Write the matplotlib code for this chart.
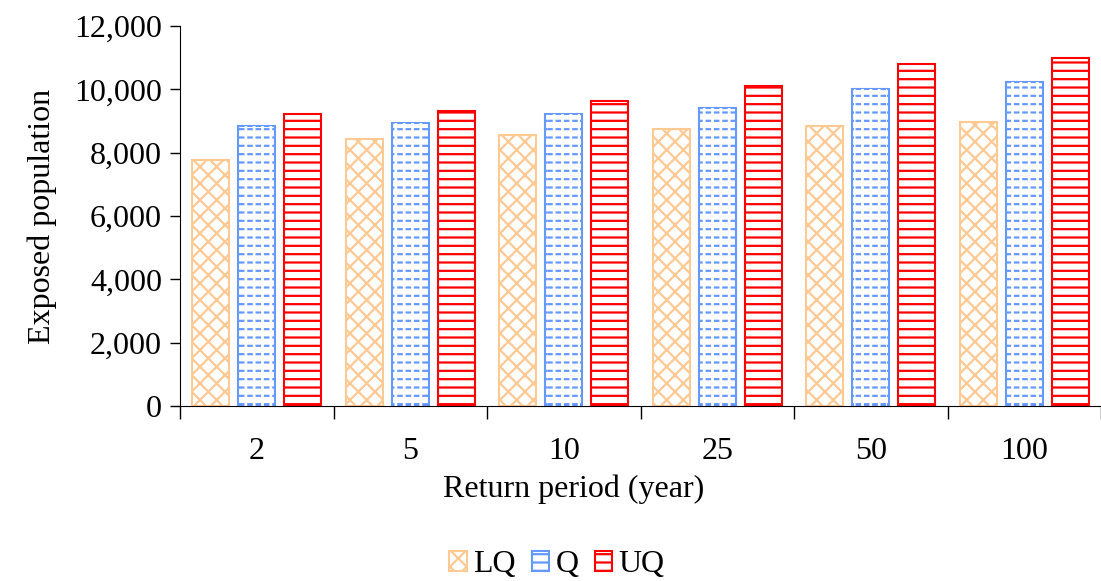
import numpy as np
import matplotlib.pyplot as plt
from matplotlib.ticker import FuncFormatter

periods = ["2", "5", "10", "25", "50", "100"]
lq = [7780, 8430, 8560, 8750, 8860, 8960]
q = [8840, 8940, 9220, 9410, 10020, 10220]
uq = [9220, 9320, 9630, 10100, 10800, 10990]

series = [
    ("LQ", lq, "#FFC994", "xx"),
    ("Q", q, "#6699FF", "--"),
    ("UQ", uq, "#FF0000", "--"),
]


def main():
    plt.rcParams['font.family'] = ['Liberation Serif', 'DejaVu Serif']
    plt.rcParams['hatch.linewidth'] = 1.6
    fs = 23
    fig = plt.figure(figsize=(11.01, 5.81), dpi=100)
    ax = fig.add_axes([0.1635, 0.3012, 0.8365, 0.6538])

    x = np.arange(len(periods))
    width = 0.24
    gap = 0.06
    for i, (name, vals, color, hatch) in enumerate(series):
        offs = (i - 1) * (width + gap)
        ax.bar(x + offs, vals, width, facecolor="white", edgecolor=color,
               hatch=hatch, linewidth=1.5, label=name)
        if name == "Q":
            # break the horizontal lines into dashes
            ax.bar(x + offs, vals, width * 0.9, facecolor="none",
                   edgecolor="white", hatch="||", linewidth=0,
                   hatch_linewidth=2)

    ax.set_xlim(-0.5, len(periods) - 0.5)
    ax.set_ylim(0, 12000)
    ax.set_yticks(range(0, 12001, 2000))
    ax.yaxis.set_major_formatter(FuncFormatter(lambda v, p: f"{int(v):,}"))
    ax.set_xticks(x)
    ax.set_xticklabels(periods)
    ax.set_xticks(np.arange(-0.5, len(periods)), minor=True)
    ax.tick_params(axis='x', which='major', length=0, pad=22, labelsize=fs)
    ax.tick_params(axis='x', which='minor', length=9, width=1)
    ax.tick_params(axis='y', length=7, width=1, labelsize=fs, pad=6)

    for s in ['top', 'right']:
        ax.spines[s].set_visible(False)

    ax.set_xlabel("Return period (year)", fontsize=fs)
    ax.xaxis.set_label_coords((574 - 180) / 921, -0.18)
    ax.set_ylabel("Exposed population", fontsize=fs, labelpad=12)

    fig.legend(loc='center', bbox_to_anchor=(0.506, 0.028), ncol=3, frameon=False,
               fontsize=fs, handlelength=0.55, handleheight=0.55,
               handletextpad=0.2, columnspacing=0.5)

    fig.savefig("out.png", dpi=100)


if __name__ == "__main__":
    main()
